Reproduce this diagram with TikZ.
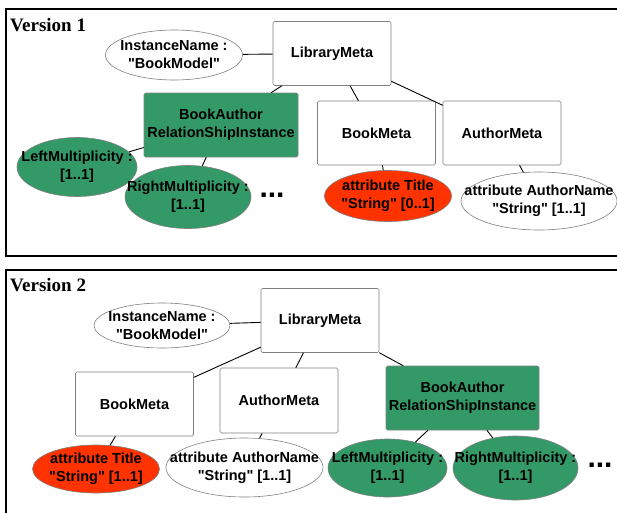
\documentclass[tikz,border=0pt]{standalone}
\usepackage{fontspec}
\setmainfont{Liberation Serif}
\setsansfont{Liberation Sans}
\usepackage{xcolor}
\usetikzlibrary{shapes.geometric}
\definecolor{relgreen}{RGB}{51,153,102}
\definecolor{attred}{RGB}{255,51,0}

\begin{document}
\begin{tikzpicture}[x=1pt,y=-1pt,
box/.style={draw=gray,line width=0.6pt,rounded corners=1.5pt,fill=white,minimum width=118pt,minimum height=64pt,inner sep=0pt,align=center,font=\sffamily\bfseries\fontsize{14.5}{18}\selectfont},
oval/.style={ellipse,draw=gray,line width=0.6pt,fill=white,inner sep=0pt},
txt/.style={align=center,inner sep=0pt,font=\sffamily\bfseries\fontsize{14.5}{18}\selectfont},
dots/.style={inner sep=0pt,font=\sffamily\bfseries\fontsize{30}{30}\selectfont},
link/.style={line width=0.9pt},
panel/.style={line width=2pt},
heading/.style={anchor=base west,inner sep=0pt,font=\bfseries\fontsize{19}{22}\selectfont}]

\useasboundingbox (0,0) rectangle (617,512);
\clip (0,0) rectangle (617,512);
\fill[white] (0,0) rectangle (617,512);

\draw[panel] (6,9) rectangle (640,256);
\node[heading] (ver1) at (10,31) {Version 1};

\node[box] (lib1) at (332,53.5) {LibraryMeta};
\node[oval,minimum width=137pt,minimum height=50pt] (inst1) at (174,55) {};
\node[txt] (inst1t) at (inst1) {InstanceName :\\\textquotedbl BookModel\textquotedbl};
\node[box,fill=relgreen,minimum width=154pt] (rel1) at (221,125) {BookAuthor\\RelationShipInstance};
\node[oval,fill=relgreen,minimum width=120pt,minimum height=59pt] (left1) at (77,167) {};
\node[txt] (left1t) at (left1) {LeftMultiplicity :\\{}[1..1]};
\node[oval,fill=relgreen,minimum width=126pt,minimum height=63pt] (right1) at (188,197) {};
\node[txt] (right1t) at (right1) {RightMultiplicity :\\{}[1..1]};
\node[dots] (dots1) at (272,195) {...};
\node[box] (book1) at (376.5,133) {BookMeta};
\node[box] (auth1) at (502,133) {AuthorMeta};
\node[oval,fill=attred,minimum width=127pt,minimum height=51pt] (title1) at (388,196) {};
\node[txt] (title1t) at (title1) {attribute Title\\\textquotedbl String\textquotedbl{} [0..1]};
\node[oval,minimum width=156pt,minimum height=58pt] (name1) at (539,201) {};
\node[txt] (name1t) at (name1) {attribute AuthorName\\\textquotedbl String\textquotedbl{} [1..1]};

\draw[link] (inst1) -- (lib1);
\draw[link] (lib1) -- (rel1);
\draw[link] (lib1) -- (book1);
\draw[link] (lib1) -- (auth1);
\draw[link] (rel1) -- (left1);
\draw[link] (rel1) -- (right1);
\draw[link] (book1) -- (title1);
\draw[link] (auth1) -- (name1);

\draw[panel] (6,270) rectangle (640,540);
\node[heading] (ver2) at (10,291) {Version 2};

\node[box] (lib2) at (320,320.5) {LibraryMeta};
\node[oval,minimum width=136pt,minimum height=45pt] (inst2) at (162,325.5) {};
\node[txt] (inst2t) at (inst2) {InstanceName :\\\textquotedbl BookModel\textquotedbl};
\node[box] (book2) at (134.5,404) {BookMeta};
\node[box,minimum height=65pt] (auth2) at (279,400.5) {AuthorMeta};
\node[oval,fill=attred,minimum width=127pt,minimum height=48pt] (title2) at (96,469) {};
\node[txt] (title2t) at (title2) {attribute Title\\\textquotedbl String\textquotedbl{} [1..1]};
\node[oval,minimum width=157pt,minimum height=59pt] (name2) at (244.5,467.5) {};
\node[txt] (name2t) at (name2) {attribute AuthorName\\\textquotedbl String\textquotedbl{} [1..1]};
\node[box,fill=relgreen,minimum width=153pt] (rel2) at (462.5,398) {BookAuthor\\RelationShipInstance};
\node[oval,fill=relgreen,minimum width=119pt,minimum height=58pt] (left2) at (387.5,468) {};
\node[txt] (left2t) at (left2) {LeftMultiplicity :\\{}[1..1]};
\node[oval,fill=relgreen,minimum width=125pt,minimum height=64pt] (right2) at (515.5,468) {};
\node[txt] (right2t) at (right2) {RightMultiplicity :\\{}[1..1]};
\node[dots] (dots2) at (600,465) {...};

\draw[link] (inst2) -- (lib2);
\draw[link] (lib2) -- (book2);
\draw[link] (lib2) -- (auth2);
\draw[link] (lib2) -- (rel2);
\draw[link] (book2) -- (title2);
\draw[link] (auth2) -- (name2);
\draw[link] (rel2) -- (left2);
\draw[link] (rel2) -- (right2);

\end{tikzpicture}
\end{document}
